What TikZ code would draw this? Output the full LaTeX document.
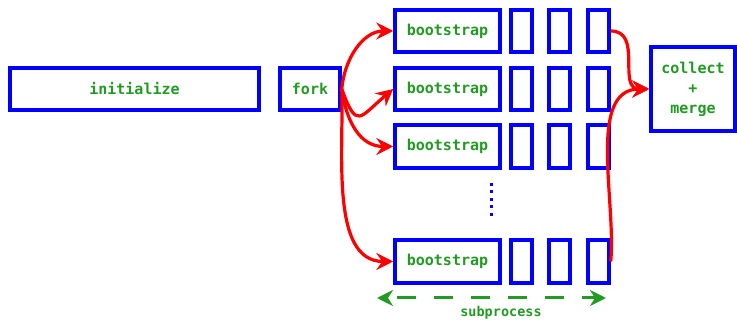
\documentclass[tikz,border=0pt]{standalone}
\usepackage{fontspec}
\setmonofont{DejaVu Sans Mono}
\usetikzlibrary{arrows.meta}
\definecolor{txtgreen}{RGB}{34,155,34}
\tikzset{
  box/.style={draw=blue, line width=3.5pt, inner sep=0pt, minimum height=42pt,
    font=\fontsize{15}{18}\selectfont\ttfamily\bfseries, text=txtgreen, align=center},
  small/.style={box, minimum width=21pt},
  redarrow/.style={draw=red, line width=3.2pt, -{Stealth[length=17pt,width=17pt,inset=6pt]}},
}
\begin{document}
\begin{tikzpicture}[x=1pt,y=-1pt]
\useasboundingbox (0,0) rectangle (737,320);
\node[box, minimum width=249pt] (init) at (134.5,89) {initialize};
\node[box, minimum width=60pt] (fork) at (310,89) {fork};
\foreach \i/\y/\h in {1/31/42, 2/89/42, 3/146.5/43, 4/261.5/43}{
  \node[box, minimum width=105pt, minimum height=\h pt] (b\i) at (447.5,\y) {bootstrap};
  \node[small, minimum height=\h pt] (s\i a) at (521.5,\y) {};
  \node[small, minimum height=\h pt] (s\i b) at (559.5,\y) {};
  \node[small, minimum height=\h pt] (s\i c) at (598.5,\y) {};
}
\node[box, minimum width=84pt, minimum height=84pt] (coll) at (693,89) {collect\\[2pt]+\\[2pt]merge};
% dots
\coordinate (d1) at (491,183);
\coordinate (d2) at (491,217);
\draw[blue, line width=3pt, dash pattern=on 3pt off 4.5pt] (d1) -- (d2);
% fork arrows
\draw[redarrow] (fork.east) to[out=85,in=180] (b1.west);
\draw[redarrow] (fork.east) to[out=-70,in=220,looseness=2.2] (b2.west);
\draw[redarrow] (fork.east) to[out=-82,in=180,looseness=1.1] (b3.west);
\draw[redarrow] (fork.east) to[out=-88,in=180,looseness=0.9] (b4.west);
% collect arrows
\draw[redarrow] (s1c.east) to[out=0,in=180,looseness=1.2] (coll.west);
\draw[redarrow] (s4c.east) to[out=85,in=180,looseness=0.9] (coll.west);
% subprocess
\coordinate (p1) at (377,298);
\coordinate (p2) at (606,298);
\draw[txtgreen, line width=3pt, dash pattern=on 19pt off 18pt, dash phase=-10pt,
  {Stealth[length=16pt,width=16pt,inset=5pt]}-{Stealth[length=16pt,width=16pt,inset=5pt]}] (p1) -- (p2);
\node[font=\fontsize{13.5}{16}\selectfont\ttfamily\bfseries, text=txtgreen] (sub) at (501,313) {subprocess};
\end{tikzpicture}
\end{document}
